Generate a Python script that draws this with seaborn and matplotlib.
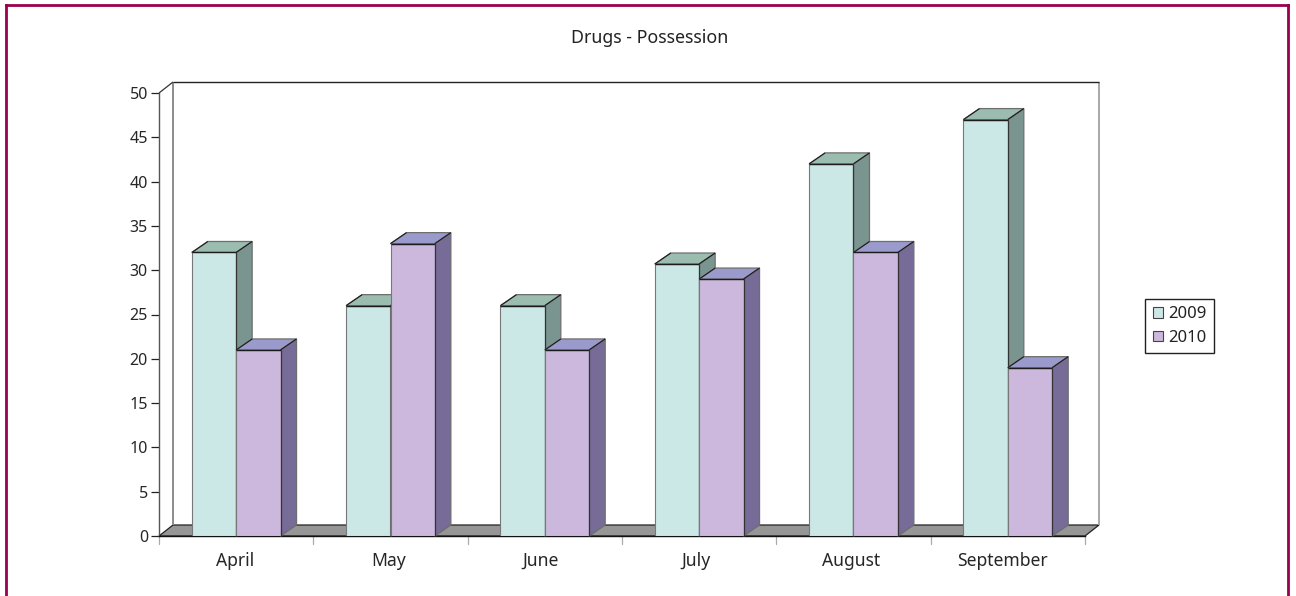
import pandas as pd
import matplotlib
matplotlib.use("Agg")
import matplotlib.pyplot as plt
import seaborn as sns
from matplotlib.lines import Line2D
from matplotlib.patches import Polygon, Rectangle
from matplotlib.transforms import IdentityTransform, ScaledTranslation

# Chart values
months = ["April", "May", "June", "July", "August", "September"]
values_2009 = [32, 26, 26, 30.7, 42, 47]
values_2010 = [21, 33, 21, 29, 32, 19]
y_ticks = [0, 5, 10, 15, 20, 25, 30, 35, 40, 45, 50]

df = pd.DataFrame({
    "month": months * 2,
    "value": values_2009 + values_2010,
    "year": ["2009"] * len(months) + ["2010"] * len(months),
})

sns.set_style("ticks")
plt.rcParams["font.family"] = ["Noto Sans", "DejaVu Sans"]
plt.rcParams["text.color"] = "#222222"

W, H = 1296, 596
fig = plt.figure(figsize=(W / 100, H / 100), dpi=100)
ax = fig.add_axes([159 / W, (H - 536) / H, 926 / W, 443 / H])

front = {"2009": "#cbe8e6", "2010": "#cbb8dc"}
top = {"2009": "#9abdb0", "2010": "#9a9acc"}
side = {"2009": "#7a9490", "2010": "#776b97"}

sns.barplot(data=df, x="month", y="value", hue="year", order=months,
            palette=front, width=0.575, gap=0, saturation=1, legend=False, ax=ax)
ax.set_xlim(-0.5, len(months) - 0.5)
ax.set_ylim(0, 50)
ax.set_xlabel("")
ax.set_ylabel("")
ax.set_yticks(y_ticks)
ax.set_xticks(range(len(months)))
ax.set_xticklabels(months)
ax.patch.set_alpha(0)

# Pixel transform for the fake 3D parts
px = IdentityTransform()
def poly(points, fc, z, ec="#6e6e6e", lw=0.9):
    ax.add_patch(Polygon(points, closed=True, facecolor=fc, edgecolor=ec, linewidth=lw,
                         transform=px, clip_on=False, zorder=z))

def line(points, color, lw, z):
    xs, ys = zip(*points)
    ax.plot(xs, ys, color=color, lw=lw, transform=px, clip_on=False, zorder=z,
            scalex=False, scaley=False, solid_capstyle="butt")

# Floor and back wall
wall_dx, wall_dy = 14, 11
x0, y0 = ax.transData.transform((-0.5, 0))
x1, y1 = ax.transData.transform((len(months) - 0.5, 50))
poly([(x0, y0), (x1, y0), (x1 + wall_dx, y0 + wall_dy), (x0 + wall_dx, y0 + wall_dy)],
     "#969696", 1, ec="#222222")
line([(x0 + wall_dx, y0 + wall_dy), (x0 + wall_dx, y1 + wall_dy)], "#8c8c8c", 1.4, 1)
line([(x1 + wall_dx, y0 + wall_dy), (x1 + wall_dx, y1 + wall_dy)], "#a8a8a8", 1.4, 1)
line([(x0 + wall_dx, y1 + wall_dy), (x1 + wall_dx, y1 + wall_dy)], "#222222", 1.0, 1)
line([(x0, y1), (x0 + wall_dx, y1 + wall_dy)], "#333333", 0.9, 1)

# Bars with top and side faces
bar_dx, bar_dy = 16, 11
for i, (year, container) in enumerate(zip(["2009", "2010"], ax.containers)):
    z = 3 + 2 * i
    for bar in container:
        (xa, ya), (xb, yb) = ax.transData.transform(
            [(bar.get_x(), 0), (bar.get_x() + bar.get_width(), bar.get_height())])
        bar.set_edgecolor("#777777")
        bar.set_linewidth(0.8)
        bar.set_zorder(z + 1)
        poly([(xa, yb), (xb, yb), (xb + bar_dx, yb + bar_dy), (xa + bar_dx, yb + bar_dy)], top[year], z)
        poly([(xb, ya), (xb + bar_dx, ya + bar_dy), (xb + bar_dx, yb + bar_dy), (xb, yb)], side[year], z)
        # darker front edges of the box
        line([(xa, yb), (xb, yb)], "#1c1c1c", 1.0, z + 1.5)
        line([(xb, ya), (xb, yb)], "#333333", 0.9, z + 1.5)
        line([(xb, yb), (xb + bar_dx, yb + bar_dy)], "#1c1c1c", 0.8, z + 1.5)
        line([(xa, yb), (xa + bar_dx, yb + bar_dy)], "#1c1c1c", 0.8, z + 1.5)

# Axes styling
sns.despine(ax=ax)
ax.spines["left"].set_color("#555555")
ax.spines["left"].set_linewidth(1.0)
ax.spines["bottom"].set_color("#111111")
ax.spines["bottom"].set_linewidth(1.0)
ax.tick_params(axis="y", length=6, width=0.9, color="#222222", labelsize=11.5, pad=2)
ax.tick_params(axis="x", length=0, labelsize=12.6, pad=11.5)
for b in range(len(months) + 1):
    ax.plot([b - 0.5, b - 0.5], [0, -0.9], color="#aaaaaa", lw=0.9, clip_on=False, zorder=1)
ax.set_ylim(0, 50)

# Month labels sit slightly left of the category centres in the original
label_shift = [-1, -2, -4, -3, -2, -5.5]
for label, dx in zip(ax.get_xticklabels(), label_shift):
    label.set_transform(label.get_transform() + ScaledTranslation(dx / 100, 0, fig.dpi_scale_trans))

fig.text(650 / W, 1 - 38 / H, "Drugs - Possession", ha="center", va="center", fontsize=12.8)

# Legend
handles = [Rectangle((0, 0), 1, 1, facecolor=front[y], edgecolor="#444444", linewidth=0.8) for y in front]
fig.legend(handles, list(front), loc="center left", bbox_to_anchor=(1145 / W, 1 - 326 / H),
           frameon=True, fancybox=False, framealpha=1, edgecolor="#222222", fontsize=12,
           handlelength=0.6, handleheight=0.6, handletextpad=0.36, labelspacing=0.45,
           borderpad=0.45, borderaxespad=0)

# Outer border: left, top and right only, the bottom is open
border_color = "#99004d"
left, right, upper = 5.5 / W, 1288 / W, 1 - 5 / H
for xs, ys in [([left, left], [0, upper]), ([left, right], [upper, upper]), ([right, right], [upper, 0])]:
    fig.add_artist(Line2D(xs, ys, transform=fig.transFigure, color=border_color, lw=2.0, solid_capstyle="projecting"))

fig.savefig("out.png", dpi=100)
